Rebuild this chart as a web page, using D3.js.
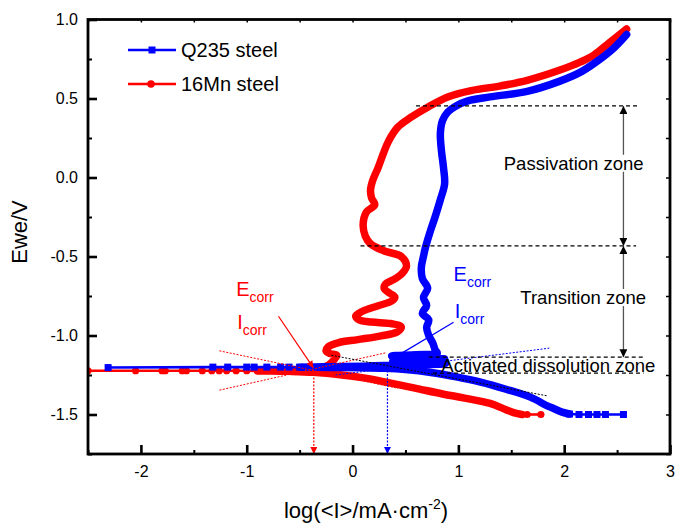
<!DOCTYPE html>
<html><head><meta charset="utf-8">
<script src="https://cdn.jsdelivr.net/npm/d3@7/dist/d3.min.js"></script>
<style>
body{margin:0;background:#fff}
svg{display:block}
text{font-family:"Liberation Sans",Arial,sans-serif;fill:#000}
</style>
</head><body><svg id="c" width="675" height="523"></svg>
<script>
// ---------- data ----------
const xTicks = [-2, -1, 0, 1, 2, 3];
const xTickLabels = ["-2", "-1", "0", "1", "2", "3"];
const yTicks = [-1.5, -1.0, -0.5, 0.0, 0.5, 1.0];
const yTickLabels = ["-1.5", "-1.0", "-0.5", "0.0", "0.5", "1.0"];
const seriesNames = ["Q235 steel", "16Mn steel"];
const xTitle = "log(<I>/mA·cm";
const yTitle = "Ewe/V";

// Q235 steel: dense scan (cathodic -> Ecorr -> anodic)
const q235Dense = [
  [2.05,-1.497],[1.98,-1.485],[1.9,-1.462],[1.84,-1.445],[1.68,-1.39],[1.45,-1.34],[1.21,-1.295],
  [0.98,-1.262],[0.74,-1.234],[0.5,-1.216],[0.31,-1.208],[0.1,-1.204],[-0.2,-1.202],[-0.5,-1.201],
  [-0.2,-1.197],[0.1,-1.194],[0.3,-1.19],[0.6,-1.186],[0.88,-1.178],[0.6,-1.17],[0.38,-1.162],
  [0.7,-1.155],[0.87,-1.148],[0.5,-1.14],[0.37,-1.13],[0.6,-1.122],[0.8,-1.112],[0.78,-1.09],
  [0.76,-1.05],[0.72,-1.0],[0.7,-0.95],[0.72,-0.9],[0.66,-0.86],[0.7,-0.81],[0.67,-0.76],
  [0.71,-0.7],[0.66,-0.64],[0.65,-0.57],[0.67,-0.5],[0.69,-0.44],[0.73,-0.35],[0.78,-0.25],
  [0.83,-0.14],[0.87,-0.04],[0.86,0.06],[0.84,0.17],[0.83,0.28],[0.85,0.36],[0.9,0.415],
  [0.97,0.45],[1.09,0.485],[1.3,0.51],[1.65,0.545],[1.96,0.61],[2.15,0.665],[2.3,0.73],
  [2.47,0.82],[2.59,0.905]
];
const q235LeftTail = [[-2.31,-1.203],[-1.32,-1.2],[-1.18,-1.2],[-1.0,-1.2],[-0.93,-1.2],[-0.81,-1.2],[-0.68,-1.2],[-0.6,-1.2],[-0.5,-1.2]];
const q235RightTail = [[2.05,-1.497],[2.14,-1.5],[2.23,-1.5],[2.31,-1.5],[2.39,-1.5],[2.56,-1.5]];

// 16Mn steel
const mn16Dense = [
  [1.6,-1.5],[1.53,-1.49],[1.45,-1.47],[1.3,-1.43],[1.06,-1.396],[0.85,-1.37],[0.59,-1.333],
  [0.35,-1.3],[0.12,-1.27],[-0.1,-1.25],[-0.37,-1.233],[-0.6,-1.227],[-0.9,-1.224],
  [-0.6,-1.22],[-0.4,-1.213],[-0.25,-1.195],[-0.19,-1.165],[-0.16,-1.14],[-0.15,-1.125],
  [-0.21,-1.115],[-0.25,-1.098],[-0.23,-1.072],[-0.13,-1.045],[0.05,-1.026],[0.27,-1.002],
  [0.42,-0.978],[0.46,-0.945],[0.36,-0.924],[0.18,-0.915],[0.06,-0.9],[0.03,-0.876],
  [0.09,-0.848],[0.25,-0.81],[0.37,-0.782],[0.4,-0.757],[0.35,-0.732],[0.3,-0.705],
  [0.31,-0.676],[0.4,-0.642],[0.47,-0.606],[0.51,-0.56],[0.46,-0.5],[0.3,-0.465],
  [0.17,-0.42],[0.12,-0.37],[0.1,-0.3],[0.13,-0.22],[0.21,-0.172],[0.18,-0.13],
  [0.17,-0.08],[0.19,-0.02],[0.24,0.06],[0.29,0.15],[0.34,0.23],[0.43,0.32],[0.55,0.38],
  [0.71,0.445],[0.9,0.51],[1.12,0.55],[1.4,0.58],[1.65,0.615],[1.96,0.68],[2.15,0.73],
  [2.28,0.775],[2.43,0.855],[2.59,0.94]
];
const mn16LeftTail = [[-2.5,-1.223],[-2.05,-1.223],[-1.8,-1.223],[-1.77,-1.223],[-1.61,-1.223],[-1.57,-1.223],[-1.42,-1.223],[-1.33,-1.223],[-1.26,-1.223],[-1.19,-1.223],[-1.1,-1.223],[-1.0,-1.223],[-0.9,-1.224]];
const mn16RightTail = [[1.6,-1.5],[1.65,-1.5],[1.78,-1.5]];

// annotations (data units)
const zoneNames = ["Passivation zone", "Transition zone", "Activated dissolution zone"];
const zoneLabelPos = [[2.09, 0.09], [2.18, -0.76], [1.85, -1.19]];
const zoneLines = [ [[0.6,0.453],[2.69,0.453]], [[0.075,-0.433],[2.68,-0.433]], [[0.72,-1.137],[2.75,-1.137]], [[0.76,-1.238],[2.75,-1.238]] ];
const zoneArrows = [ [[2.56,0.453],[2.56,-0.433]], [[2.56,-0.433],[2.56,-1.137]] ];
const redTafel = [ [[-1.258,-1.097],[0.43,-1.334]], [[-1.258,-1.346],[0.31,-1.11]] ];
const blueTafel = [[-0.16,-1.25],[1.86,-1.08]];
const blackTafel = [[-0.2,-1.125],[1.84,-1.382]];
const redPointer = [[-0.70,-0.878],[-0.37,-1.205]];
const bluePointer = [[0.955,-0.916],[0.47,-1.11]];
const redDrop = [[-0.366,-1.222],[-0.366,-1.75]];
const blueDrop = [[0.33,-1.2],[0.33,-1.75]];
const redLabelPos = [[-1.10,-0.751],[-1.09,-0.96]];
const blueLabelPos = [[0.955,-0.656],[0.965,-0.89]];
const corrLabels = ["E", "I"];

// ---------- drawing ----------
const RED = "#ff0000", BLUE = "#0000ff";
const svg = d3.select("#c");
svg.append("rect").attr("width",675).attr("height",523).attr("fill","#fff");
const x = d3.scaleLinear().domain([-2.5, 3]).range([88, 670]);
const y = d3.scaleLinear().domain([-1.75, 1.0]).range([454, 19.5]);

const defs = svg.append("defs");
function mk(id, color, w, h) {
  defs.append("marker").attr("id", id).attr("viewBox", "0 0 10 10").attr("refX", 10).attr("refY", 5)
    .attr("markerWidth", w).attr("markerHeight", h).attr("markerUnits", "userSpaceOnUse")
    .attr("orient", "auto-start-reverse")
    .append("path").attr("d", "M0,0 L10,5 L0,10 Z").attr("fill", color);
}
mk("arRed", RED, 11, 7);
mk("arBlue", BLUE, 11, 7);
mk("arBlack", "#000", 11, 8);

defs.append("clipPath").attr("id","plot").append("rect")
  .attr("x", x(-2.5)).attr("y", y(1.0)).attr("width", x(3)-x(-2.5)).attr("height", y(-1.75)-y(1.0));

const line = d3.line().x(d => x(d[0])).y(d => y(d[1])).curve(d3.curveCatmullRom.alpha(0.5));
const straight = d3.line().x(d => x(d[0])).y(d => y(d[1]));

const plot = svg.append("g").attr("clip-path","url(#plot)");

function series(g, dense, tails, color, shape) {
  tails.forEach(t => g.append("path").attr("d", straight(t)).attr("fill","none")
    .attr("stroke", color).attr("stroke-width", 2.6));
  g.append("path").attr("d", line(dense)).attr("fill","none").attr("stroke", color)
    .attr("stroke-width", 7.5).attr("stroke-linejoin","round").attr("stroke-linecap","round");
  tails.forEach(t => t.forEach(p => {
    if (shape === "sq") g.append("rect").attr("x", x(p[0])-3.5).attr("y", y(p[1])-3.5)
      .attr("width",7).attr("height",7).attr("fill", color);
    else g.append("circle").attr("cx", x(p[0])).attr("cy", y(p[1])).attr("r", 3.6).attr("fill", color);
  }));
}
series(plot, mn16Dense, [mn16LeftTail, mn16RightTail], RED, "ci");
series(plot, q235Dense, [q235LeftTail, q235RightTail], BLUE, "sq");

// annotations
const ann = svg.append("g");
redTafel.forEach(l => ann.append("path").attr("d", straight(l)).attr("stroke", RED)
  .attr("stroke-width", 1).attr("stroke-dasharray","2,1.5").attr("fill","none"));
ann.append("path").attr("d", straight(blueTafel)).attr("stroke", BLUE).attr("stroke-width",1)
  .attr("stroke-dasharray","2,1.5").attr("fill","none");
ann.append("path").attr("d", straight(blackTafel)).attr("stroke", "#000").attr("stroke-width",1)
  .attr("stroke-dasharray","2,1.5").attr("fill","none");
ann.append("path").attr("d", straight(redPointer)).attr("stroke", RED).attr("stroke-width",1.2)
  .attr("fill","none").attr("marker-end","url(#arRed)");
ann.append("path").attr("d", straight(bluePointer)).attr("stroke", BLUE).attr("stroke-width",1.2)
  .attr("fill","none");
ann.append("path").attr("d", straight(redDrop)).attr("stroke", RED).attr("stroke-width",1.2)
  .attr("stroke-dasharray","2,1.5").attr("fill","none").attr("marker-end","url(#arRed)");
ann.append("path").attr("d", straight(blueDrop)).attr("stroke", BLUE).attr("stroke-width",1.2)
  .attr("stroke-dasharray","2,1.5").attr("fill","none").attr("marker-end","url(#arBlue)");

zoneLines.forEach(l => ann.append("path").attr("d", straight(l)).attr("stroke","#000")
  .attr("stroke-width",1.3).attr("stroke-dasharray","4,3").attr("fill","none"));
zoneArrows.forEach(l => ann.append("path").attr("d", straight(l)).attr("stroke","#555")
  .attr("stroke-width",1.3).attr("fill","none")
  .attr("marker-start","url(#arBlack)").attr("marker-end","url(#arBlack)"));

zoneNames.forEach((n, i) => {
  const t = ann.append("text").attr("x", x(zoneLabelPos[i][0])).attr("y", y(zoneLabelPos[i][1]))
    .attr("text-anchor","middle").attr("dominant-baseline","central").attr("font-size", 18.5).text(n);
  if (i < 2) {
    const b = t.node().getBBox();
    ann.insert("rect", () => t.node()).attr("x", b.x).attr("y", b.y + 2)
      .attr("width", b.width).attr("height", b.height - 4).attr("fill", "#fff");
  }
});

function corr(pos, color) {
  corrLabels.forEach((c, i) => {
    const t = ann.append("text").attr("x", x(pos[i][0])).attr("y", y(pos[i][1]))
      .attr("font-size", 20).attr("fill", color).style("fill", color);
    t.append("tspan").text(c);
    t.append("tspan").attr("font-size", 14).attr("dy", 6).text("corr");
  });
}
corr(redLabelPos, RED);
corr(blueLabelPos, BLUE);

// axes
function styleAxis(g, w) {
  g.select(".domain").remove();
  g.selectAll("line").attr("stroke","#000").attr("stroke-width", w);
  g.selectAll("text").attr("font-size", 16).attr("font-family", "'Liberation Sans', Arial, sans-serif").attr("fill","#000");
}
const xMinor = d3.range(-2.5, 3.01, 0.5).filter(v => !xTicks.includes(v));
const yMinor = d3.range(-1.75, 1.01, 0.25).filter(v => !yTicks.includes(v));
const yb = y(-1.75), yt = y(1.0), xl = x(-2.5), xr = x(3);

svg.append("g").attr("transform", `translate(0,${yb})`)
  .call(d3.axisBottom(x).tickValues(xTicks).tickSize(-9).tickPadding(12).tickFormat((d, i) => xTickLabels[i]))
  .call(g => styleAxis(g, 2.6))
  .call(g => g.selectAll(".tick text").filter(d => d === 3).attr("text-anchor", "end").attr("dx", "0.28em"));
svg.append("g").attr("transform", `translate(0,${yb})`)
  .call(d3.axisBottom(x).tickValues(xMinor).tickSize(-4).tickFormat(""))
  .call(g => styleAxis(g, 2));
svg.append("g").attr("transform", `translate(${xl},0)`)
  .call(d3.axisLeft(y).tickValues(yTicks).tickSize(-9).tickPadding(10).tickFormat((d, i) => yTickLabels[i]))
  .call(g => styleAxis(g, 2.6));
svg.append("g").attr("transform", `translate(${xl},0)`)
  .call(d3.axisLeft(y).tickValues(yMinor).tickSize(-4).tickFormat(""))
  .call(g => styleAxis(g, 2));
svg.append("g").attr("transform", `translate(0,${yt})`)
  .call(d3.axisTop(x).tickValues(xTicks.concat(xMinor)).tickSize(-3).tickFormat(""))
  .call(g => styleAxis(g, 1.5));
svg.append("g").attr("transform", `translate(${xr},0)`)
  .call(d3.axisRight(y).tickValues(yTicks.concat(yMinor)).tickSize(-4).tickFormat(""))
  .call(g => styleAxis(g, 1.5));

svg.append("rect").attr("x", xl).attr("y", yt).attr("width", xr - xl).attr("height", yb - yt)
  .attr("fill","none").attr("stroke","#000").attr("stroke-width", 2.8);

// titles
const xt = svg.append("text").attr("x", 366).attr("y", 518).attr("text-anchor","middle").attr("font-size", 22);
xt.append("tspan").text(xTitle);
xt.append("tspan").attr("font-size", 14).attr("dy", -9).text("-2");
xt.append("tspan").attr("dy", 9).text(")");
svg.append("text").attr("transform", "translate(27,232) rotate(-90)").attr("text-anchor","middle")
  .attr("font-size", 22).text(yTitle);

// legend
const leg = svg.append("g");
[[BLUE, "sq", 50], [RED, "ci", 84]].forEach((s, i) => {
  leg.append("line").attr("x1", 128).attr("x2", 176).attr("y1", s[2]).attr("y2", s[2])
    .attr("stroke", s[0]).attr("stroke-width", 2.6);
  if (s[1] === "sq") leg.append("rect").attr("x", 148.5).attr("y", s[2]-3.5).attr("width",7).attr("height",7).attr("fill", s[0]);
  else leg.append("circle").attr("cx", 151).attr("cy", s[2]).attr("r", 3.8).attr("fill", s[0]);
  leg.append("text").attr("x", 181).attr("y", s[2]).attr("dominant-baseline","central")
    .attr("font-size", 20).text(seriesNames[i]);
});
</script>
</body></html>
